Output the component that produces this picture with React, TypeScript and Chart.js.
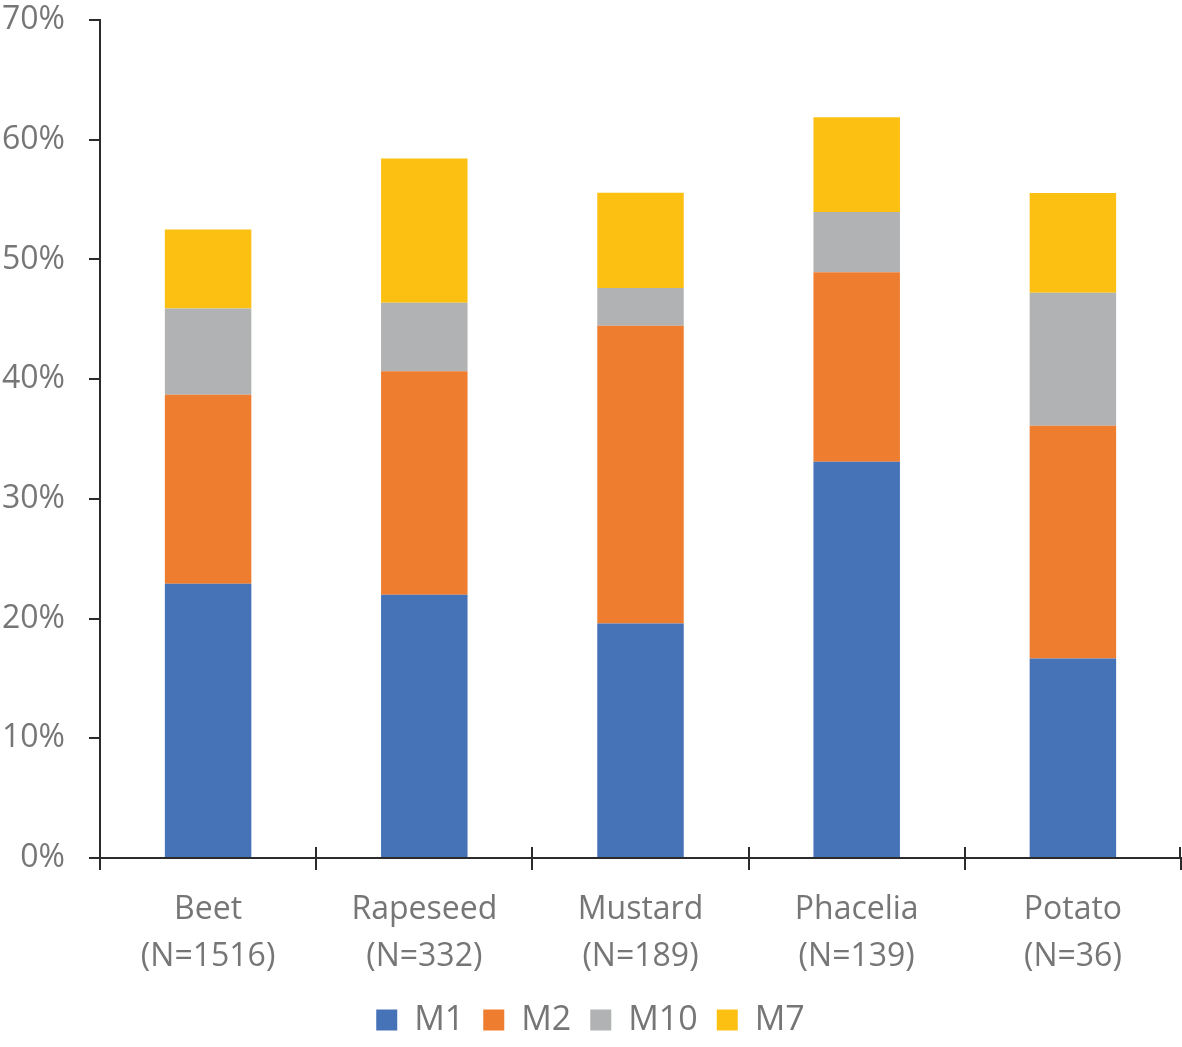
import React, { useEffect, useRef } from "react";
import { Chart, registerables } from "chart.js";

Chart.register(...registerables);

const categories: string[][] = [
  ["Beet", "(N=1516)"],
  ["Rapeseed", "(N=332)"],
  ["Mustard", "(N=189)"],
  ["Phacelia", "(N=139)"],
  ["Potato", "(N=36)"],
];

const m1 = [22.9, 21.99, 19.58, 33.09, 16.67];
const m2 = [15.8, 18.67, 24.87, 15.83, 19.44];
const m10 = [7.2, 5.72, 3.17, 5.04, 11.11];
const m7 = [6.6, 12.05, 7.94, 7.91, 8.33];

const yTicks = [0, 10, 20, 30, 40, 50, 60, 70];

const textColor = "#767676";
const axisColor = "#2b2b2b";
const fontFamily = "'Open Sans', 'Noto Sans', sans-serif";

// short marks above the x axis at the category boundaries (Excel "cross" ticks)
const crossTicks = {
  id: "crossTicks",
  afterDraw(chart: Chart) {
    const xs = chart.scales.x;
    const n = chart.data.labels?.length ?? 0;
    if (!xs || !n) return;
    const { ctx, chartArea } = chart;
    const step = (xs.right - xs.left) / n;
    ctx.save();
    ctx.strokeStyle = axisColor;
    ctx.lineWidth = 2;
    ctx.beginPath();
    for (let i = 0; i <= n; i++) {
      const x = Math.round(xs.left + i * step) + (i === n ? -1 : 0);
      ctx.moveTo(x, chartArea.bottom - 11);
      ctx.lineTo(x, chartArea.bottom);
    }
    ctx.stroke();
    ctx.restore();
  },
};

const App: React.FC = () => {
  const chartRef = useRef<HTMLCanvasElement | null>(null);
  const chartInstance = useRef<Chart | null>(null);

  useEffect(() => {
    document.body.style.margin = "0";
    if (!chartRef.current) return;

    const bar = { barPercentage: 0.4, categoryPercentage: 1, borderWidth: 0 };

    chartInstance.current = new Chart(chartRef.current, {
      type: "bar",
      data: {
        labels: categories,
        datasets: [
          { label: "M1", data: m1, backgroundColor: "#4672B8", ...bar },
          { label: "M2", data: m2, backgroundColor: "#EE7D30", ...bar },
          { label: "M10", data: m10, backgroundColor: "#B1B2B3", ...bar },
          { label: "M7", data: m7, backgroundColor: "#FCC012", ...bar },
        ],
      },
      options: {
        animation: false,
        responsive: true,
        maintainAspectRatio: false,
        layout: { padding: { top: 0, right: 1, left: 0, bottom: 0 } },
        plugins: {
          tooltip: { enabled: false },
          legend: {
            position: "bottom",
            labels: {
              color: textColor,
              boxWidth: 21,
              boxHeight: 21,
              padding: 19,
              font: { family: fontFamily, size: 34, lineHeight: 1.0 },
            },
          },
        },
        scales: {
          x: {
            stacked: true,
            offset: true,
            grid: {
              offset: true,
              drawOnChartArea: false,
              drawTicks: true,
              tickLength: 12,
              color: axisColor,
              lineWidth: 2,
            },
            border: { color: axisColor, width: 2 },
            ticks: {
              color: textColor,
              padding: 17,
              maxRotation: 0,
              font: { family: fontFamily, size: 32, lineHeight: 1.45 },
            },
            afterFit: (scale: any) => {
              scale.height = 126;
            },
          },
          y: {
            stacked: true,
            min: 0,
            max: 70,
            afterBuildTicks: (scale: any) => {
              scale.ticks = yTicks.map((v) => ({ value: v }));
            },
            grid: {
              drawOnChartArea: false,
              drawTicks: true,
              tickLength: 11,
              color: axisColor,
              lineWidth: 2,
            },
            border: { color: axisColor, width: 2 },
            ticks: {
              color: textColor,
              padding: 24,
              font: { family: fontFamily, size: 32 },
              callback: (v: any) => `${v}%`,
            },
            afterFit: (scale: any) => {
              scale.width = 100;
              scale.paddingTop = 20;
              scale.paddingBottom = 0;
            },
          },
        },
      },
      plugins: [crossTicks],
    });

    return () => {
      chartInstance.current?.destroy();
      chartInstance.current = null;
    };
  }, []);

  return (
    <div style={{ width: 1182, height: 1047, position: "relative" }}>
      <canvas ref={chartRef} />
    </div>
  );
};

export default App;
